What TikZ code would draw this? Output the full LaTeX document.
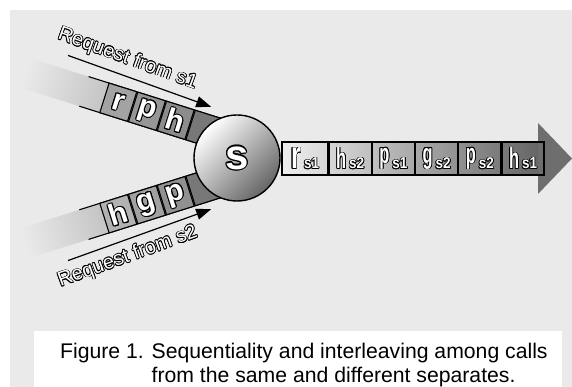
\documentclass[tikz,border=0pt]{standalone}
\usepackage{fontspec}
\setmainfont{Liberation Sans}
\usepackage{graphicx}
\usepackage{tikz}
\usetikzlibrary{arrows.meta, positioning}

\definecolor{bggray}{HTML}{EAEAEA}
\definecolor{headgray}{HTML}{6E6E6E}

% white text with a black rim: black copies round a white one
\newcommand\hollow[5][0.8pt]{%
  \foreach \a in {0,30,...,330}
    \node[#2, text=black] at ([shift={(\a:#1)}]#4) {#5};
  \node[#2, text=white] (#3) at (#4) {#5};}
\newcommand\tallltr[1]{\raisebox{\depth}{\resizebox*{10pt}{21pt}{\bfseries #1}}}
\newcommand\subltr[1]{\raisebox{\depth}{\resizebox*{15pt}{11pt}{\bfseries #1}}}

\begin{document}
\begin{tikzpicture}[
  x=1pt, y=1pt,
  lbox/.style={draw, line width=1.1pt, minimum width=29pt, minimum height=31pt, inner sep=0pt, transform shape},
  rbox/.style={draw, line width=1.2pt, minimum width=42pt, minimum height=33pt, inner sep=0pt},
  edge/.style={line width=1.1pt},
  req/.style={-{Triangle[length=15pt, width=11pt]}, line width=1.2pt},
  hol/.style={inner sep=0pt, transform shape},
  callfont/.style={hol, font=\fontsize{30}{30}\selectfont\bfseries},
  reqfont/.style={hol, font=\fontsize{20}{20}\selectfont}
]
  \useasboundingbox (0,0) rectangle (572,387);
  \fill[bggray] (10,0) rectangle (572,377);
  \fill[white] (34,0) rectangle (562,56);

  % the two incoming bands, faded to the left
  \begin{scope}[transform canvas={shift={(237pt,229pt)}, rotate=-17.5}]
    \shade[left color=bggray, right color=black!48] (-228,2) rectangle (0,33);
  \end{scope}
  \begin{scope}[transform canvas={shift={(237pt,229pt)}, rotate=17.5}]
    \shade[left color=bggray, right color=black!48] (-228,-2) rectangle (0,-33);
  \end{scope}

  % calls from s1
  \begin{scope}[shift={(237,229)}, rotate=-17.5]
    \draw[edge] (-166,33) -- (-10,33);
    \draw[edge] (-166,2) -- (-10,2);
    \node[lbox, fill=black!36] (s1r) at (-130,17.5) {};
    \node[lbox, fill=black!41, right=0pt of s1r] (s1p) {};
    \node[lbox, fill=black!45, right=0pt of s1p] (s1h) {};
    \node[lbox, fill=black!53, minimum width=54pt, right=0pt of s1h] (s1end) {};
    \hollow[1pt]{callfont}{s1rt}{s1r}{r}
    \hollow[1pt]{callfont}{s1pt}{s1p}{p}
    \hollow[1pt]{callfont}{s1ht}{s1h}{h}
    \coordinate (s1from) at (-192,47);
    \coordinate (s1to) at (-40,41);
    \draw[req] (s1from) -- (s1to);
    \hollow[0.75pt]{reqfont, rotate=-2.5}{s1lbl}{-134,61.5}{Request from s1}
  \end{scope}

  % calls from s2
  \begin{scope}[shift={(237,229)}, rotate=17.5]
    \draw[edge] (-166,-33) -- (-10,-33);
    \draw[edge] (-166,-2) -- (-10,-2);
    \node[lbox, fill=black!30] (s2h) at (-130,-17.5) {};
    \node[lbox, fill=black!37, right=0pt of s2h] (s2g) {};
    \node[lbox, fill=black!43, right=0pt of s2g] (s2p) {};
    \node[lbox, fill=black!53, minimum width=54pt, right=0pt of s2p] (s2end) {};
    \hollow[1pt]{callfont}{s2ht}{s2h}{h}
    \hollow[1pt]{callfont}{s2gt}{s2g}{g}
    \hollow[1pt]{callfont}{s2pt}{s2p}{p}
    \coordinate (s2from) at (-192,-47);
    \coordinate (s2to) at (-40,-41);
    \draw[req] (s2from) -- (s2to);
    \hollow[0.75pt]{reqfont, rotate=2.5}{s2lbl}{-134,-61.5}{Request from s2}
  \end{scope}

  % interleaved output
  \shade[left color=black!4, right color=black!60] (272,212) rectangle (538,245);
  \fill[headgray] (538,264) -- (572,228.5) -- (538,193) -- cycle;
  \node[rbox, minimum width=46pt] (o1) at (305,228.5) {};
  \node[rbox, right=0pt of o1] (o2) {};
  \node[rbox, right=0pt of o2] (o3) {};
  \node[rbox, right=0pt of o3] (o4) {};
  \node[rbox, right=0pt of o4] (o5) {};
  \node[rbox, right=0pt of o5] (o6) {};
  \hollow[0.8pt]{hol}{o1t}{o1}{\tallltr{r}\hspace{3pt}\subltr{s1}}
  \hollow[0.8pt]{hol}{o2t}{o2}{\tallltr{h}\hspace{3pt}\subltr{s2}}
  \hollow[0.8pt]{hol}{o3t}{o3}{\tallltr{p}\hspace{3pt}\subltr{s1}}
  \hollow[0.8pt]{hol}{o4t}{o4}{\tallltr{g}\hspace{3pt}\subltr{s2}}
  \hollow[0.8pt]{hol}{o5t}{o5}{\tallltr{p}\hspace{3pt}\subltr{s2}}
  \hollow[0.8pt]{hol}{o6t}{o6}{\tallltr{h}\hspace{3pt}\subltr{s1}}

  \node[circle, draw, line width=1.4pt, minimum size=86pt, inner sep=0pt,
        top color=white, bottom color=black!60, shading angle=45] (srv) at (237,229) {};
  \hollow[1.2pt]{hol, font=\fontsize{42}{42}\selectfont\bfseries}{srvt}{srv}{s}

  \node[anchor=north west, align=left, inner sep=0pt, font=\fontsize{21.2}{24}\selectfont] (cap) at (60,44.3)
    {Figure 1. Sequentiality and interleaving among calls\\\hphantom{Figure 1. }from the same and different separates.};
\end{tikzpicture}
\end{document}
